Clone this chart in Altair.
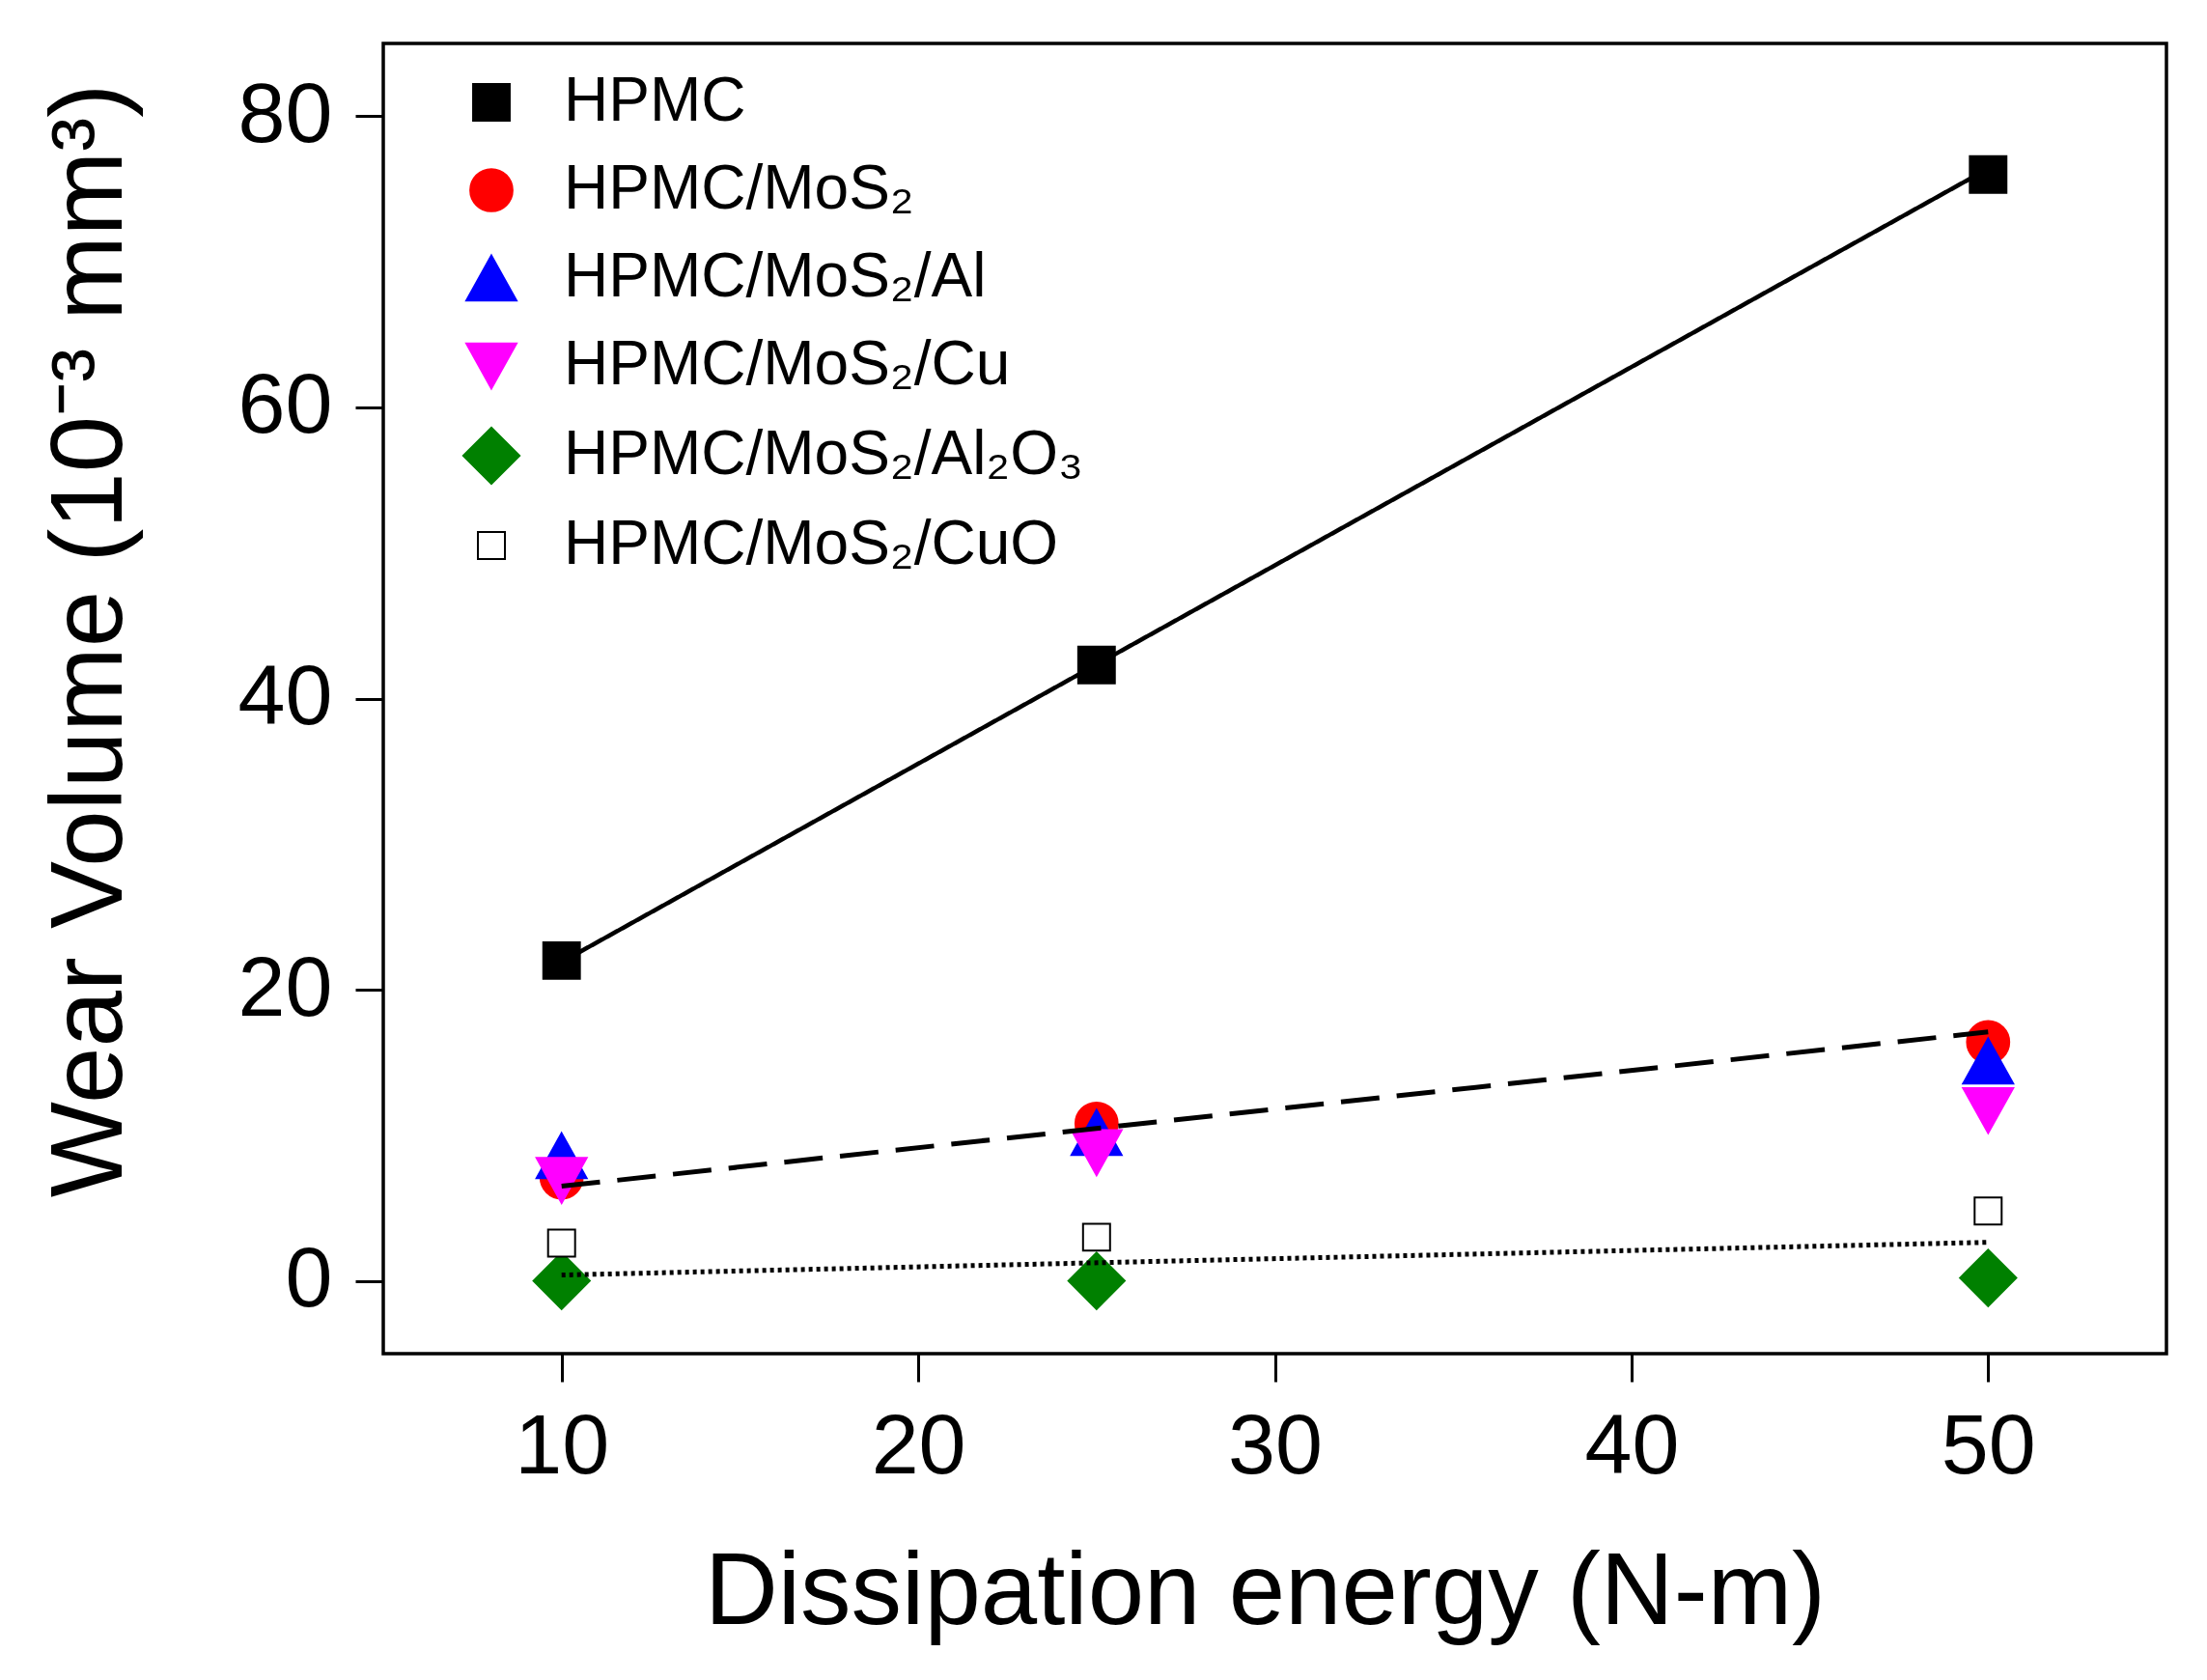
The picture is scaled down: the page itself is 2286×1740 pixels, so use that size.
import json
import altair as alt
import pandas as pd

# measured values (wear volume, 10^-3 mm^3) at each dissipation energy
energy = [10, 25, 50]
series_names = [
    "HPMC",
    "HPMC/MoS₂",
    "HPMC/MoS₂/Al",
    "HPMC/MoS₂/Cu",
    "HPMC/MoS₂/Al₂O₃",
    "HPMC/MoS₂/CuO",
]
hpmc = [22.0, 42.3, 76.0]
hpmc_mos2 = [7.1, 10.8, 16.4]
hpmc_mos2_al = [8.6, 10.2, 15.1]
hpmc_mos2_cu = [6.9, 8.8, 11.7]
hpmc_mos2_al2o3 = [0.0, 0.0, 0.2]
hpmc_mos2_cuo = [2.6, 3.0, 4.8]

# trend lines (end points)
fit_x = [10, 50]
fit_solid = [21.9, 76.4]
fit_dashed = [6.5, 17.1]
fit_dotted = [0.4, 2.65]

fills = ["black", "red", "blue", "magenta", "green", "white"]
strokes = ["black", "red", "blue", "magenta", "green", "black"]
# unit symbol paths; one common mark size scales them all (legend included)
shapes = [
    "M-0.65,-0.65H0.65V0.65H-0.65Z",
    "M0.75,0A0.75,0.75,0,1,1,-0.75,0A0.75,0.75,0,1,1,0.75,0Z",
    "M0,-0.8L0.89,0.8L-0.89,0.8Z",
    "M0,0.8L0.89,-0.8L-0.89,-0.8Z",
    "M-1,0L0,-1L1,0L0,1Z",
    "M-0.48,-0.48H0.48V0.48H-0.48Z",
]
SYMBOL_SIZE = 3400

FONT = "Liberation Sans"

rows = []
for name, vals in zip(series_names, [hpmc, hpmc_mos2, hpmc_mos2_al, hpmc_mos2_cu,
                                     hpmc_mos2_al2o3, hpmc_mos2_cuo]):
    for e, v in zip(energy, vals):
        rows.append({"series": name, "energy": e, "volume": v})
pts = pd.DataFrame(rows)

fits = pd.DataFrame({
    "energy": fit_x * 3,
    "volume": fit_solid + fit_dashed + fit_dotted,
    "fit": ["solid"] * 2 + ["dashed"] * 2 + ["dotted"] * 2,
})

names_js = json.dumps(series_names, ensure_ascii=False)
leg = alt.Legend(title=None)

x_enc = alt.X("energy:Q",
              scale=alt.Scale(domain=[5, 55], nice=False, zero=False),
              axis=alt.Axis(title="Dissipation energy (N-m)", values=[10, 20, 30, 40, 50],
                            titleX=913, titleY=279, titleBaseline="alphabetic",
                            labelPadding=24))
y_enc = alt.Y("volume:Q",
              scale=alt.Scale(domain=[-5, 85], nice=False, zero=False),
              axis=alt.Axis(title="Wear Volume (10⁻³ mm³)", values=[0, 20, 40, 60, 80],
                            titleX=-272, titleY=618, titleAngle=-90,
                            titleBaseline="alphabetic", titleAlign="center",
                            labelPadding=24))

points = alt.Chart(pts).transform_calculate(
    order=f"indexof({names_js}, datum.series)",
).mark_point(filled=True, opacity=1, strokeWidth=2, size=SYMBOL_SIZE).encode(
    x=x_enc,
    y=y_enc,
    fill=alt.Fill("series:N", sort=series_names,
                  scale=alt.Scale(domain=series_names, range=fills), legend=leg),
    stroke=alt.Stroke("series:N", sort=series_names,
                      scale=alt.Scale(domain=series_names, range=strokes), legend=leg),
    shape=alt.Shape("series:N", sort=series_names,
                    scale=alt.Scale(domain=series_names, range=shapes), legend=leg),
    order=alt.Order("order:Q"),
)


def fit_line(kind, dash, width):
    return alt.Chart(fits).transform_filter(alt.datum.fit == kind).mark_line(
        color="black", strokeWidth=width, strokeDash=dash
    ).encode(x="energy:Q", y="volume:Q")


lines = (fit_line("solid", [1, 0], 4.5)
         + fit_line("dashed", [40, 18], 5)
         + fit_line("dotted", [4, 4], 5))

chart = alt.layer(points, lines).properties(
    width=1847,
    height=1357,
    autosize=alt.AutoSizeParams(type="none"),
    padding={"left": 389, "top": 37, "right": 34, "bottom": 330},
).configure(
    font=FONT,
).configure_view(
    stroke="black", strokeWidth=3.5, fill="white",
).configure_axis(
    domain=False, grid=False,
    tickSize=29, tickWidth=3, tickColor="black",
    labelFont=FONT, labelFontSize=88, labelColor="black",
    titleFont=FONT, titleFontSize=105, titleColor="black", titleFontWeight="normal",
).configure_legend(
    orient="none", legendX=80, legendY=29,
    padding=0, labelFont=FONT, labelFontSize=64, labelColor="black", labelLimit=1000,
    labelOffset=43, rowPadding=27, symbolSize=SYMBOL_SIZE, symbolStrokeWidth=2,
    symbolOpacity=1,
)

chart.save("out.html", embed_options={"renderer": "svg", "actions": False})
